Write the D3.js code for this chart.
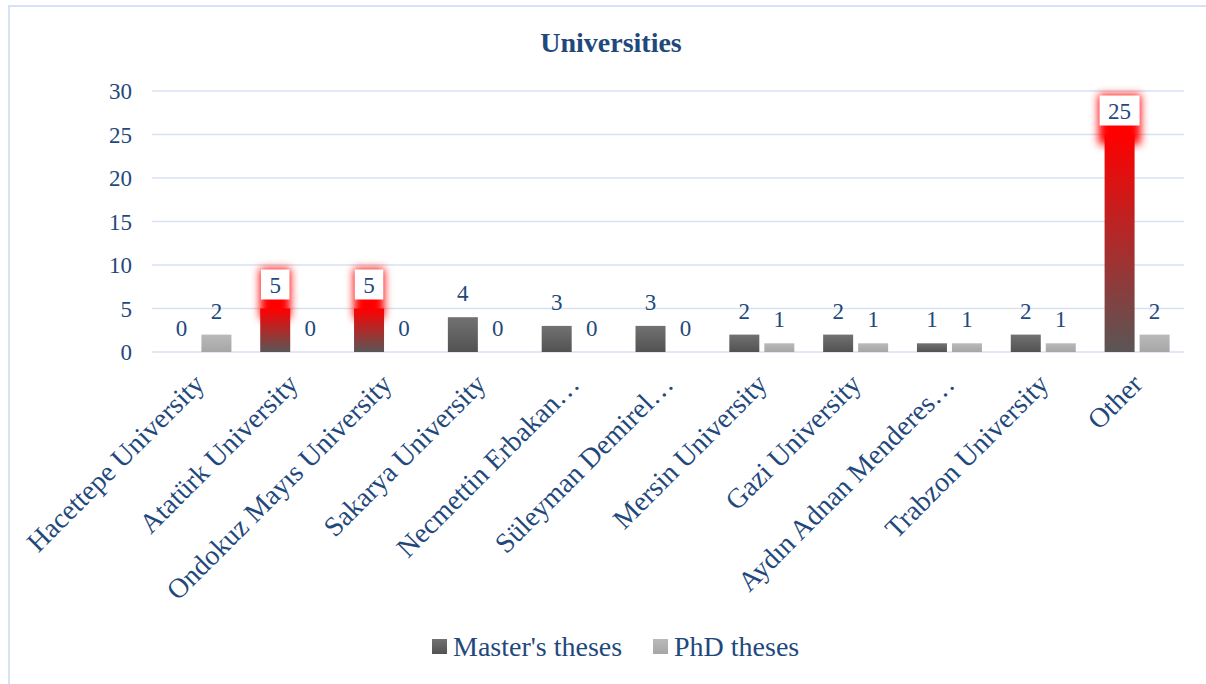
<!DOCTYPE html>
<html>
<head>
<meta charset="utf-8">
<script src="https://cdn.jsdelivr.net/npm/d3@7"></script>
<style>
  body { margin: 0; background: #fff; }
  svg text { font-family: "Liberation Serif", "Times New Roman", serif; fill: #1F497D; }
</style>
</head>
<body>
<div id="chart"></div>
<script>
var categories = ["Hacettepe University", "Atatürk University", "Ondokuz Mayıs University", "Sakarya University",
	"Necmettin Erbakan…", "Süleyman Demirel…", "Mersin University", "Gazi University",
	"Aydın Adnan Menderes…", "Trabzon University", "Other"];
var masters = [0, 5, 5, 4, 3, 3, 2, 2, 1, 2, 25];
var phds = [2, 0, 0, 0, 0, 0, 1, 1, 1, 1, 2];
var series = ["Master's theses", "PhD theses"];
var highlighted = ["Atatürk University", "Ondokuz Mayıs University", "Other"];
var yTicks = [0, 5, 10, 15, 20, 25, 30];

var W = 1206, H = 684;
var margin = {left: 152, right: 22, top: 91, bottom: 332};

var svg = d3.select("#chart").append("svg").attr("width", W).attr("height", H);
var defs = svg.append("defs");

function grad(id, top, bottom) {
	var g = defs.append("linearGradient").attr("id", id).attr("x1", 0).attr("y1", 0).attr("x2", 0).attr("y2", 1);
	g.append("stop").attr("offset", "0%").attr("stop-color", top);
	g.append("stop").attr("offset", "100%").attr("stop-color", bottom);
}
grad("gMaster", "#727272", "#525252");
grad("gPhd", "#bababa", "#a6a6a6");
grad("gRed", "#ff0000", "#5a5656");

defs.append("filter").attr("id", "glow").attr("x", "-50%").attr("y", "-50%").attr("width", "200%").attr("height", "200%")
	.append("feGaussianBlur").attr("stdDeviation", 4);

// frame
svg.append("rect").attr("x", 9).attr("y", 6).attr("width", 1220).attr("height", 700)
	.attr("fill", "none").attr("stroke", "#d7e3f4").attr("stroke-width", 2);

svg.append("text").attr("x", 611).attr("y", 52).attr("text-anchor", "middle")
	.style("font-size", "28px").style("font-weight", "bold").text("Universities");

var x0 = d3.scaleBand().domain(categories).range([margin.left, W - margin.right]);
var bw = x0.bandwidth();
var x1 = d3.scaleBand().domain(series).range([bw / 2 - 32.5, bw / 2 + 32.5]).paddingInner(0.143);
var y = d3.scaleLinear().domain([0, 30]).range([H - margin.bottom, margin.top]);

// gridlines
svg.append("g").selectAll("line").data(yTicks).join("line")
	.attr("x1", margin.left).attr("x2", W - margin.right)
	.attr("y1", d => y(d)).attr("y2", d => y(d))
	.attr("stroke", "#d6e2f2").attr("stroke-width", 1.5);

// y tick labels
svg.append("g").selectAll("text").data(yTicks).join("text")
	.attr("x", 132).attr("y", d => y(d)).attr("dy", "0.35em").attr("text-anchor", "end")
	.style("font-size", "23px").text(d => d);

var rows = categories.map((c, i) => ({cat: c, vals: [masters[i], phds[i]]}));

var groups = svg.append("g").selectAll("g").data(rows).join("g")
	.attr("transform", d => "translate(" + x0(d.cat) + ",0)");

groups.each(function(d) {
	var g = d3.select(this);
	d.vals.forEach(function(v, k) {
		var s = series[k];
		var bx = x1(s), bwid = x1.bandwidth();
		var hi = k == 0 && highlighted.indexOf(d.cat) >= 0;
		var top = y(v);
		var cx = bx + bwid / 2;
		if (hi) {
			var txt = g.append("text").attr("x", cx).attr("y", top - 16).attr("text-anchor", "middle")
				.style("font-size", "23px").text(v);
			var tw = txt.node().getComputedTextLength() + 17;
			txt.remove();
			g.append("rect").attr("x", cx - tw / 2 - 1).attr("y", top - 40).attr("width", tw + 2).attr("height", 50)
				.attr("fill", "#ff0000").attr("filter", "url(#glow)");
			g.append("rect").attr("x", bx).attr("y", top).attr("width", bwid).attr("height", y(0) - top)
				.attr("fill", "url(#gRed)");
			g.append("rect").attr("x", cx - tw / 2).attr("y", top - 39).attr("width", tw).attr("height", 30)
				.attr("fill", "#fff");
		} else {
			g.append("rect").attr("x", bx).attr("y", top).attr("width", bwid).attr("height", y(0) - top)
				.attr("fill", k == 0 ? "url(#gMaster)" : "url(#gPhd)");
		}
		g.append("text").attr("x", cx).attr("y", top - 16).attr("text-anchor", "middle")
			.style("font-size", "23px").text(v);
	});
});

// category labels
svg.append("g").selectAll("text").data(categories).join("text")
	.attr("transform", d => "translate(" + (x0(d) + bw / 2) + "," + (y(0) + 27) + ") rotate(-45)")
	.attr("text-anchor", "end").attr("dy", "0.35em")
	.style("font-size", "28px").text(d => d);

// legend
var legend = svg.append("g");
var lx = [432, 653];
series.forEach(function(s, k) {
	legend.append("rect").attr("x", lx[k]).attr("y", 639).attr("width", 15).attr("height", 15)
		.attr("fill", k == 0 ? "url(#gMaster)" : "url(#gPhd)");
	legend.append("text").attr("x", lx[k] + 21).attr("y", 656).style("font-size", "28px").text(s);
});
</script>
</body>
</html>
